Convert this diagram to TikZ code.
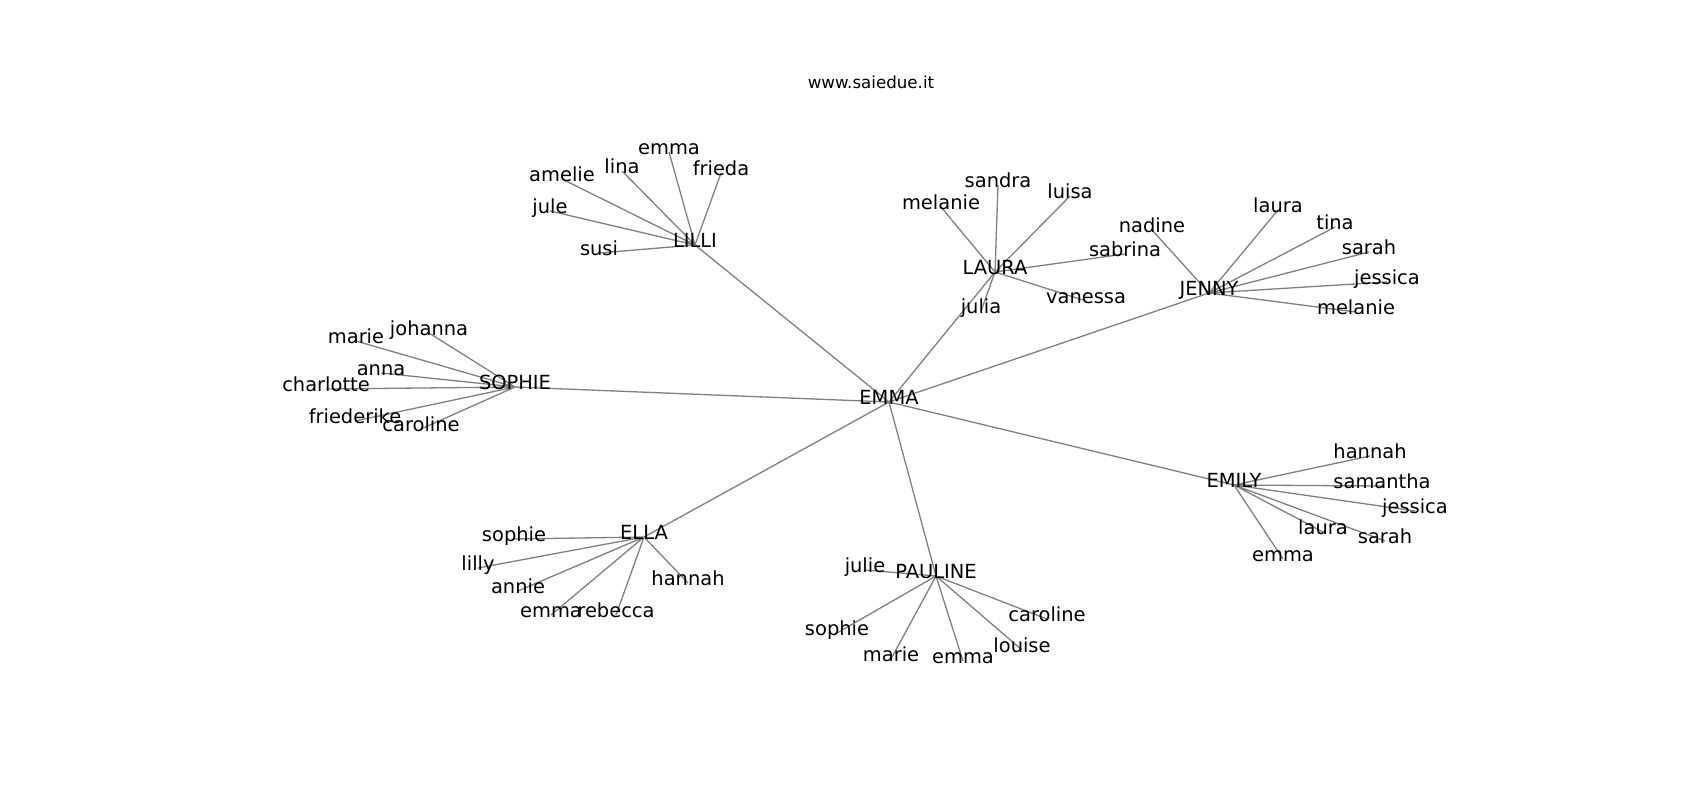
\documentclass[tikz,border=0pt]{standalone}
\usepackage{fontspec}
\setmainfont{DejaVu Sans}
\usepackage{xcolor}
\usetikzlibrary{backgrounds}
\definecolor{edge}{HTML}{808080}
\definecolor{ink}{HTML}{000000}

\begin{document}
\begin{tikzpicture}[x=1pt,y=-1pt,
  girl/.style={inner sep=0pt,text=ink,font=\fontsize{19.44}{23}\selectfont,
    text height=0.76em,text depth=0.24em,anchor=center},
  link/.style={draw=edge,line width=1.3pt}]
\useasboundingbox (0,0) rectangle (1700,800);
\node[text=ink,font=\fontsize{16.67}{20}\selectfont] (title) at (871,82) {www.saiedue.it};
% hubs
\node[girl] (EMMA)    at (889,402) {EMMA};
\node[girl] (LILLI)   at (695,245) {LILLI};
\node[girl] (SOPHIE)  at (515,387) {SOPHIE};
\node[girl] (LAURA)   at (995,272) {LAURA};
\node[girl] (JENNY)   at (1209,293) {JENNY};
\node[girl] (EMILY)   at (1234,485) {EMILY};
\node[girl] (ELLA)    at (644,537) {ELLA};
\node[girl] (PAULINE) at (936,576) {PAULINE};
% LILLI
\node[girl] (li-emma)   at (669,152) {emma};
\node[girl] (li-lina)   at (622,171) {lina};
\node[girl] (li-amelie) at (562,179) {amelie};
\node[girl] (li-jule)   at (550,211) {jule};
\node[girl] (li-susi)   at (599,253) {susi};
\node[girl] (li-frieda) at (721,173) {frieda};
% SOPHIE
\node[girl] (so-marie)      at (356,341) {marie};
\node[girl] (so-johanna)    at (429,333) {johanna};
\node[girl] (so-anna)       at (381,373) {anna};
\node[girl] (so-charlotte)  at (326,389) {charlotte};
\node[girl] (so-friederike) at (355,421) {friederike};
\node[girl] (so-caroline)   at (421,429) {caroline};
% LAURA
\node[girl] (la-sandra)  at (998,185) {sandra};
\node[girl] (la-melanie) at (941,207) {melanie};
\node[girl] (la-luisa)   at (1070,196) {luisa};
\node[girl] (la-sabrina) at (1125,254) {sabrina};
\node[girl] (la-vanessa) at (1086,301) {vanessa};
\node[girl] (la-julia)   at (981,311) {julia};
% JENNY
\node[girl] (je-nadine)  at (1152,230) {nadine};
\node[girl] (je-laura)   at (1278,210) {laura};
\node[girl] (je-tina)    at (1335,227) {tina};
\node[girl] (je-sarah)   at (1369,252) {sarah};
\node[girl] (je-jessica) at (1387,282) {jessica};
\node[girl] (je-melanie) at (1356,312) {melanie};
% EMILY
\node[girl] (em-hannah)   at (1370,456) {hannah};
\node[girl] (em-samantha) at (1382,486) {samantha};
\node[girl] (em-jessica)  at (1415,511) {jessica};
\node[girl] (em-laura)    at (1323,532) {laura};
\node[girl] (em-sarah)    at (1385,541) {sarah};
\node[girl] (em-emma)     at (1283,559) {emma};
% ELLA
\node[girl] (el-sophie)  at (514,539) {sophie};
\node[girl] (el-lilly)   at (478,568) {lilly};
\node[girl] (el-annie)   at (518,591) {annie};
\node[girl] (el-emma)    at (551,615) {emma};
\node[girl] (el-rebecca) at (616,615) {rebecca};
\node[girl] (el-hannah)  at (688,583) {hannah};
% PAULINE
\node[girl] (pa-julie)    at (865,570) {julie};
\node[girl] (pa-sophie)   at (837,633) {sophie};
\node[girl] (pa-marie)    at (891,659) {marie};
\node[girl] (pa-emma)     at (963,661) {emma};
\node[girl] (pa-louise)   at (1022,650) {louise};
\node[girl] (pa-caroline) at (1047,619) {caroline};
\begin{scope}[on background layer]
\draw[link] (EMMA.center) -- (LILLI.center) (EMMA.center) -- (SOPHIE.center)
  (EMMA.center) -- (LAURA.center) (EMMA.center) -- (JENNY.center)
  (EMMA.center) -- (EMILY.center) (EMMA.center) -- (ELLA.center)
  (EMMA.center) -- (PAULINE.center);
\draw[link] (LILLI.center) -- (li-emma.center) (LILLI.center) -- (li-lina.center)
  (LILLI.center) -- (li-amelie.center) (LILLI.center) -- (li-jule.center)
  (LILLI.center) -- (li-susi.center) (LILLI.center) -- (li-frieda.center);
\draw[link] (SOPHIE.center) -- (so-marie.center) (SOPHIE.center) -- (so-johanna.center)
  (SOPHIE.center) -- (so-anna.center) (SOPHIE.center) -- (so-charlotte.center)
  (SOPHIE.center) -- (so-friederike.center) (SOPHIE.center) -- (so-caroline.center);
\draw[link] (LAURA.center) -- (la-sandra.center) (LAURA.center) -- (la-melanie.center)
  (LAURA.center) -- (la-luisa.center) (LAURA.center) -- (la-sabrina.center)
  (LAURA.center) -- (la-vanessa.center) (LAURA.center) -- (la-julia.center);
\draw[link] (JENNY.center) -- (je-nadine.center) (JENNY.center) -- (je-laura.center)
  (JENNY.center) -- (je-tina.center) (JENNY.center) -- (je-sarah.center)
  (JENNY.center) -- (je-jessica.center) (JENNY.center) -- (je-melanie.center);
\draw[link] (EMILY.center) -- (em-hannah.center) (EMILY.center) -- (em-samantha.center)
  (EMILY.center) -- (em-jessica.center) (EMILY.center) -- (em-laura.center)
  (EMILY.center) -- (em-sarah.center) (EMILY.center) -- (em-emma.center);
\draw[link] (ELLA.center) -- (el-sophie.center) (ELLA.center) -- (el-lilly.center)
  (ELLA.center) -- (el-annie.center) (ELLA.center) -- (el-emma.center)
  (ELLA.center) -- (el-rebecca.center) (ELLA.center) -- (el-hannah.center);
\draw[link] (PAULINE.center) -- (pa-julie.center) (PAULINE.center) -- (pa-sophie.center)
  (PAULINE.center) -- (pa-marie.center) (PAULINE.center) -- (pa-emma.center)
  (PAULINE.center) -- (pa-louise.center) (PAULINE.center) -- (pa-caroline.center);
\end{scope}
\end{tikzpicture}
\end{document}
